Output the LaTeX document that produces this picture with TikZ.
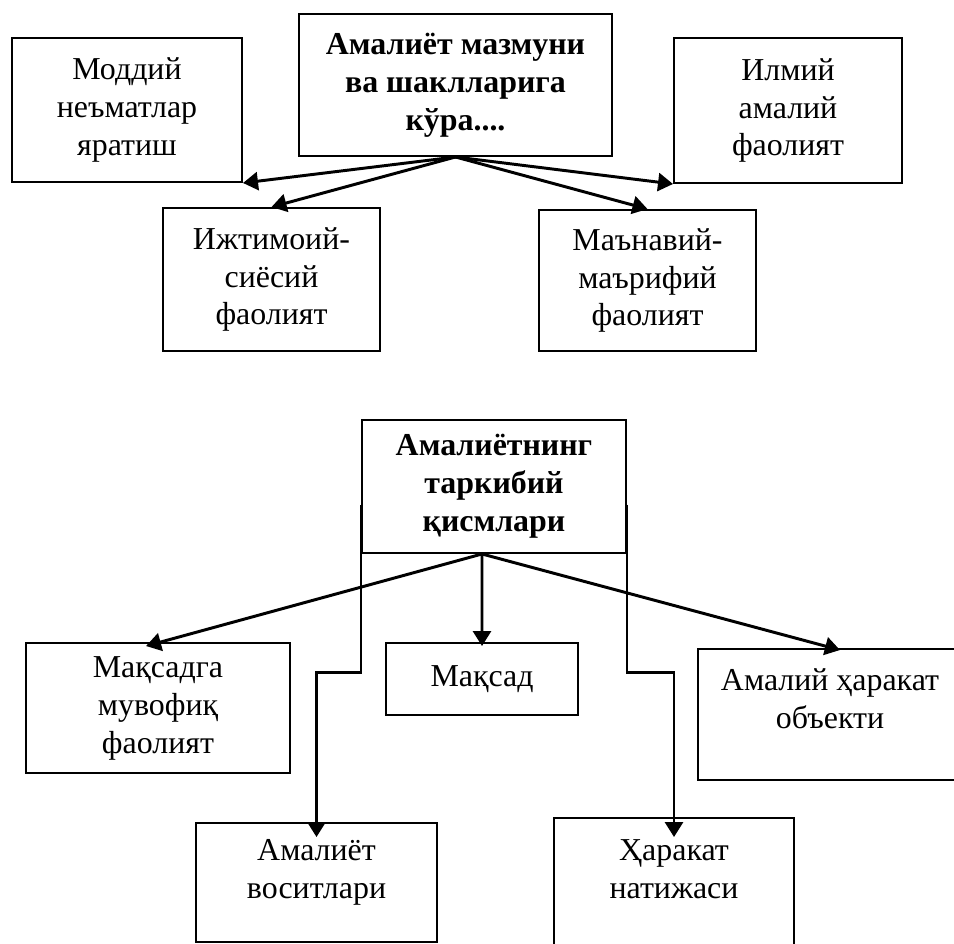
\documentclass[tikz,border=0pt]{standalone}
\usepackage{fontspec}
\setmainfont{Liberation Serif}
\usepackage{tikz}
\usetikzlibrary{arrows.meta}
\tikzset{
    box/.style={draw, rectangle, inner sep=4pt, align=center, draw=black, line width=1.4pt, font=\fontsize{22.7}{27}\selectfont},
    headbox/.style={box, font=\fontsize{22.7}{27}\selectfont\bfseries},
    arrow/.style={-{Triangle[length=0.375cm, width=0.45cm]}, line width=2.1pt, draw=black},
    line/.style={draw=black, line width=2.1pt}
}

\begin{document}
\begin{tikzpicture}

        % Cornice della pagina
        \useasboundingbox (0,0) rectangle (23.85,-23.575);

        % =================================================================
        % SCHEMA 1: FORME DELLA PRATICA
        % =================================================================

        % Nodo centrale
        \node (mazmun) [headbox, minimum width=7.825cm, minimum height=3.55cm] at (11.3875,-2.125) {Амалиёт мазмуни\\ва шаклларига\\кўра....};

        % Nodi laterali
        \node (moddiy) [box, minimum width=5.75cm, minimum height=3.6cm] at (3.175,-2.75) {Моддий\\неъматлар\\яратиш};
        \node (ilmiy) [box, minimum width=5.7cm, minimum height=3.625cm] at (19.7,-2.7625) {Илмий\\амалий\\фаолият};
        \node (ijtimoiy) [box, minimum width=5.425cm, minimum height=3.575cm] at (6.7875,-6.9875) {Ижтимоий-\\сиёсий\\фаолият};
        \node (manaviy) [box, minimum width=5.425cm, minimum height=3.525cm] at (16.1875,-7.0125) {Маънавий-\\маърифий\\фаолият};

        % Frecce dal nodo centrale
        \draw[arrow] (mazmun.south) -- (moddiy.south east);
        \draw[arrow] (mazmun.south) -- (ijtimoiy.north);
        \draw[arrow] (mazmun.south) -- (ilmiy.south west);
        \draw[arrow] (mazmun.south) -- (manaviy.north);

        % =================================================================
        % SCHEMA 2: COMPONENTI DELLA PRATICA
        % =================================================================

        % Nodo centrale
        \node (tarkib) [headbox, minimum width=6.6cm, minimum height=3.325cm] at (12.35,-12.1625) {Амалиётнинг\\таркибий\\қисмлари};
        \coordinate (hub) at ([xshift=-0.3cm]tarkib.south);

        % Primo livello
        \node (maqsadga) [box, minimum width=6.6cm, minimum height=3.25cm] at (3.95,-17.7) {Мақсадга\\мувофиқ\\фаолият};
        \node (maqsad) [box, minimum width=4.8cm, minimum height=1.8cm] at (12.05,-16.975) {Мақсад};
        \node (obyekt) [box, minimum width=6.6cm, minimum height=3.275cm] at (20.75,-17.8625) {Амалий ҳаракат\\объекти\rule[-0.8cm]{0pt}{0.8cm}};

        % Secondo livello
        \node (vosita) [box, minimum width=6.025cm, minimum height=2.975cm] at (7.9125,-22.0625) {Амалиёт\\воситлари\rule[-0.67cm]{0pt}{0.67cm}};
        \node (natija) [box, minimum width=6.0cm, minimum height=3.5cm] at (16.85,-22.2) {Ҳаракат\\натижаси\rule[-0.95cm]{0pt}{0.95cm}};

        % Frecce dirette
        \draw[arrow] (hub) -- ([xshift=-0.3cm, yshift=-0.1cm]maqsadga.north);
        \draw[arrow] (hub) -- ([yshift=-0.1cm]maqsad.north);
        \draw[arrow] (hub) -- ([xshift=0.25cm, yshift=-0.05cm]obyekt.north);

        % Frecce a gomito lungo i lati del nodo
        \draw[arrow, shorten >=-0.375cm] ([yshift=-0.45cm]tarkib.west) -- ++(0,-4.2) -| (vosita.north);
        \draw[arrow, shorten >=-0.5cm] ([yshift=-0.45cm]tarkib.east) -- ++(0,-4.2) -| (natija.north);

\end{tikzpicture}
\end{document}
